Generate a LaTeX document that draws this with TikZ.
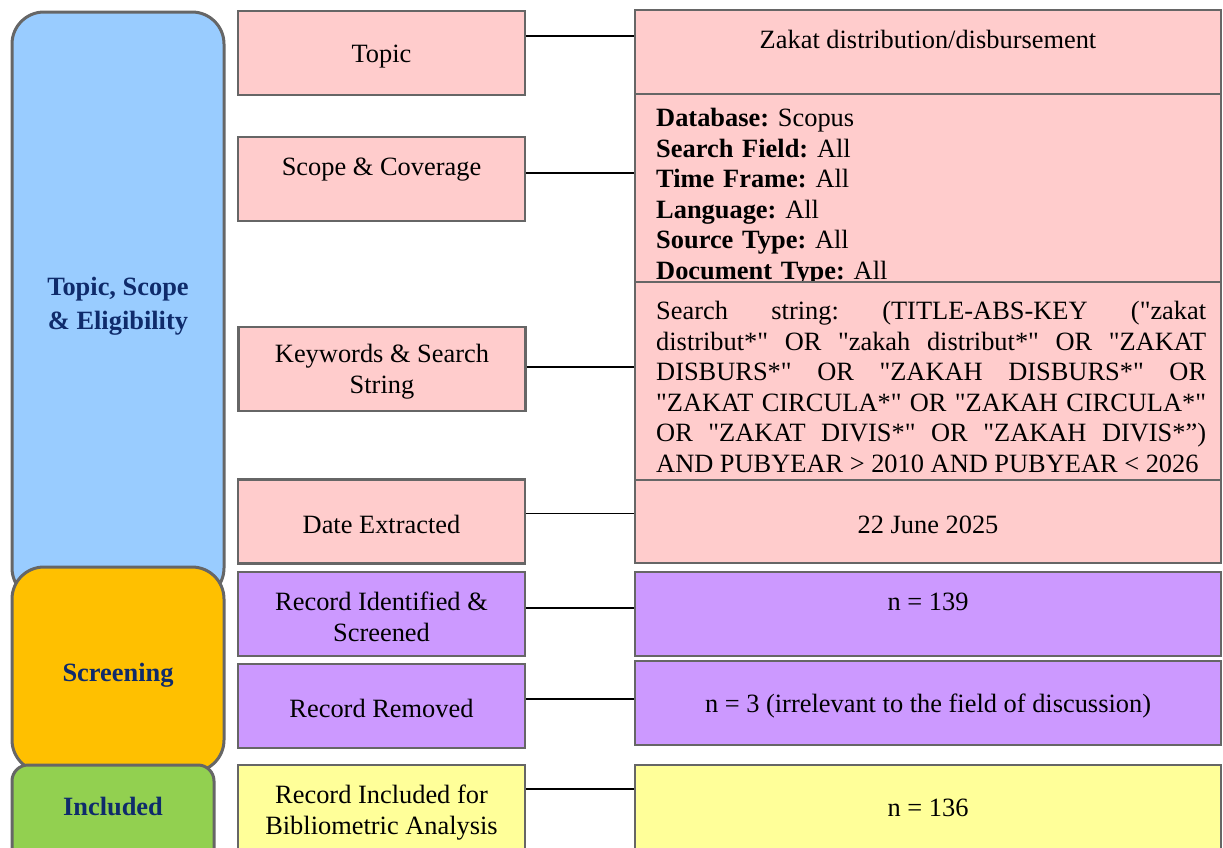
\documentclass[tikz,border=0pt]{standalone}
\usepackage{fontspec}
\setmainfont{Liberation Serif}[Ligatures=TeXOff]
\usetikzlibrary{positioning}
\frenchspacing

\definecolor{phaseBlue}{HTML}{99CCFF}
\definecolor{phaseOrange}{HTML}{FFC000}
\definecolor{phaseGreen}{HTML}{92D050}
\definecolor{phaseText}{HTML}{0F2B6B}
\definecolor{keyPink}{HTML}{FFCCCC}
\definecolor{recPurple}{HTML}{CC99FF}
\definecolor{inclYellow}{HTML}{FFFF99}
\definecolor{edgeGray}{HTML}{666666}

% taller first line, pushes box text a little down
\newcommand{\boxstrut}{\rule{0pt}{24pt}}

\tikzset{
    lbl/.style={font=\fontsize{26.4}{30.6}\selectfont, align=center, inner sep=0pt},
    box/.style={lbl, draw=edgeGray, line width=2.4pt, minimum width=287pt, minimum height=84pt},
    valbox/.style={box, minimum width=586pt},
    phase/.style={draw=edgeGray, line width=3pt, rounded corners=32pt, minimum width=212pt,
        font=\bfseries\fontsize{26.4}{34}\selectfont, text=phaseText, align=center, inner sep=0pt},
    link/.style={line width=1.5pt}
}

\begin{document}
\begin{tikzpicture}[x=1pt,y=-1pt]
        \useasboundingbox (0,0) rectangle (1223,847);
        \clip (0,0) rectangle (1223,847);

        % Left side phases
        \node[phase,fill=phaseBlue,minimum height=588pt] (phaseTopic) at (118,306) {Topic, Scope\\\& Eligibility};
        \node[phase,fill=phaseOrange,minimum height=205pt] (phaseScreen) at (118,669.5) {\rule{0pt}{30pt}Screening};
        \node[phase,fill=phaseGreen,rounded corners=16pt,minimum width=202pt,minimum height=105pt] (phaseIncl) at (113,817.5) {};
        \node[phase,draw=none] (phaseInclText) at (113,806) {Included};

        % Middle steps
        \node[box,fill=keyPink] (topic) at (381.5,53) {\boxstrut Topic};
        \node[box,fill=keyPink] (scope) at (381.5,179) {\boxstrut Scope \& Coverage\\\mbox{}};
        \node[box,fill=keyPink] (keywords) at (382,369) {\boxstrut Keywords \& Search\\String};
        \node[box,fill=keyPink] (dateExt) at (381.5,521.5) {\boxstrut Date Extracted};
        \node[box,fill=recPurple] (recIdent) at (381.5,614) {\boxstrut Record Identified \&\\Screened};
        \node[box,fill=recPurple] (recRemoved) at (381.5,706) {\boxstrut Record Removed};
        \node[box,fill=inclYellow,minimum height=105pt] (recIncluded) at (381.5,817.5) {};
        \node[lbl] (recInclText) at (381.5,812.5) {Record Included for\\Bibliometric Analysis};

        % Right side values
        \node[valbox,fill=keyPink] (topicVal) at (928,52) {\boxstrut Zakat distribution/disbursement\\\mbox{}};
        \node[valbox,fill=keyPink,minimum height=188pt] (scopeVal) at (928,188) {};
        \node[lbl,anchor=north west,text width=540pt,align=left] (scopeText) at (656,108)
            {\textbf{Database:} Scopus\\\textbf{Search Field:} All\\\textbf{Time Frame:} All\\
             \textbf{Language:} All\\\textbf{Source Type:} All\\\textbf{Document Type:} All};
        \node[valbox,fill=keyPink,minimum height=198pt] (searchVal) at (928,381) {};
        \node[lbl,anchor=north west,text width=550pt,align=justify] (searchText) at (656,301)
            {Search string: (TITLE-ABS-KEY ("zakat\linebreak
             distribut*" OR "zakah distribut*" OR "ZAKAT\linebreak
             DISBURS*" OR "ZAKAH DISBURS*" OR\linebreak
             "ZAKAT CIRCULA*" OR "ZAKAH CIRCULA*"\linebreak
             OR "ZAKAT DIVIS*" OR "ZAKAH DIVIS*”)\linebreak
             AND PUBYEAR > 2010 AND PUBYEAR < 2026};
        \node[valbox,fill=keyPink,minimum height=83pt] (dateVal) at (928,521.5) {\boxstrut 22 June 2025};
        \node[valbox,fill=recPurple] (identVal) at (928,614) {\boxstrut n = 139\\\mbox{}};
        \node[valbox,fill=recPurple] (removedVal) at (928,703) {\boxstrut n = 3 (irrelevant to the field of discussion)};
        \node[valbox,fill=inclYellow,minimum height=105pt] (includedVal) at (928,817.5) {};
        \node[lbl] (includedText) at (928,808) {n = 136};

        % Links between steps and values
        \draw[link] ([yshift=-26pt]topic.north east) coordinate (c1) -- (c1 -| topicVal.west);
        \draw[link] ([yshift=-37pt]scope.north east) coordinate (c2) -- (c2 -| scopeVal.west);
        \draw[link] ([yshift=-41pt]keywords.north east) coordinate (c3) -- (c3 -| searchVal.west);
        \draw[link] ([yshift=-35pt]dateExt.north east) coordinate (c4) -- (c4 -| dateVal.west);
        \draw[link] ([yshift=-37pt]recIdent.north east) coordinate (c5) -- (c5 -| identVal.west);
        \draw[link] ([yshift=-36pt]recRemoved.north east) coordinate (c6) -- (c6 -| removedVal.west);
        \draw[link] ([yshift=-25pt]recIncluded.north east) coordinate (c7) -- (c7 -| includedVal.west);
\end{tikzpicture}
\end{document}
